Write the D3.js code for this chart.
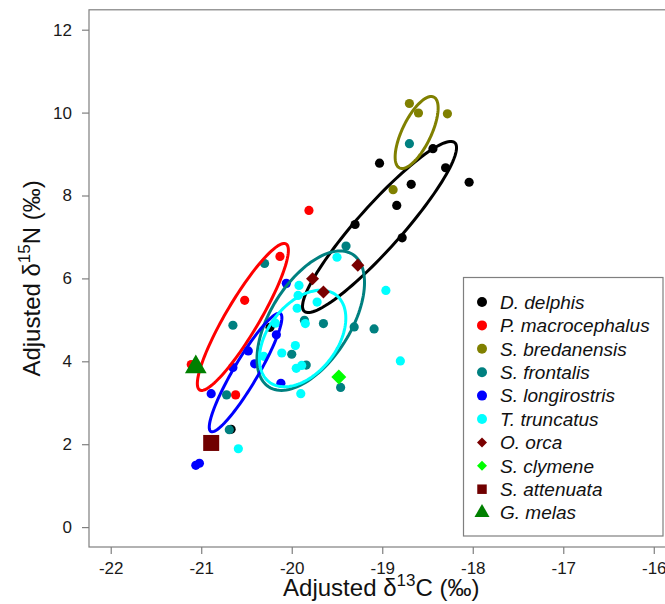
<!DOCTYPE html>
<html>
<head>
<meta charset="utf-8">
<title>Adjusted isotopes</title>
<style>
  html, body {margin: 0; padding: 0; background: #fff; overflow: hidden;}
  svg {display: block; font-family: "Liberation Sans", Arial, sans-serif;}
  .tick text {fill: #1a1a1a;}
</style>
</head>
<body>
<div id="chart"></div>
<script src="https://cdn.jsdelivr.net/npm/d3@7"></script>
<script>
// species names, in legend order
var species = ["D. delphis", "P. macrocephalus", "S. bredanensis", "S. frontalis",
               "S. longirostris", "T. truncatus", "O. orca", "S. clymene", "S. attenuata", "G. melas"];

// [d13C, d15N] per individual
var dDelphis = [[-18.04, 8.32], [-19.03, 8.78], [-18.68, 8.27], [-18.44, 9.13], [-18.30, 8.67],
                [-18.84, 7.76], [-19.30, 7.30], [-18.78, 6.98], [-20.67, 2.36], [-20.24, 4.82]];
var pMacro = [[-19.81, 7.64], [-20.13, 6.53], [-20.52, 5.47], [-20.62, 3.19], [-21.11, 3.92]];
var sBred = [[-18.70, 10.22], [-18.60, 9.99], [-18.28, 9.97], [-18.88, 8.14]];
var sFront = [[-18.70, 9.25], [-19.40, 6.78], [-20.30, 6.36], [-20.65, 4.87], [-19.86, 4.99],
              [-19.65, 4.91], [-19.31, 4.83], [-19.09, 4.78], [-20.00, 4.17], [-19.84, 3.91],
              [-19.46, 3.37], [-20.72, 3.19], [-20.69, 2.35]];
var sLongi = [[-20.06, 5.88], [-20.17, 4.64], [-20.48, 4.25], [-20.65, 3.85], [-20.41, 3.94],
              [-20.89, 3.22], [-21.06, 1.49], [-21.02, 1.54], [-20.12, 3.47]];
var tTrunc = [[-19.50, 6.51], [-19.92, 5.83], [-19.93, 5.59], [-19.72, 5.43], [-19.94, 5.28],
              [-19.85, 4.91], [-18.96, 5.71], [-20.18, 4.92], [-20.31, 4.12], [-20.11, 4.20],
              [-19.96, 4.38], [-19.95, 3.83], [-19.89, 3.90], [-18.80, 4.01], [-19.90, 3.22],
              [-20.59, 1.89]];
var oOrca = [[-19.77, 5.99], [-19.65, 5.67], [-19.27, 6.32]];
var sClym = [[-19.48, 3.62]];
var sAtten = [[-20.89, 2.03]];
var gMelas = [[-21.06, 3.86]];

// standard ellipse: centre and covariance (sxx, syy, sxy)
var seaSpecies = ["D. delphis", "P. macrocephalus", "S. bredanensis", "S. frontalis", "S. longirostris", "T. truncatus"];
var seaCx  = [-19.03, -20.54, -18.62, -19.79, -20.51, -19.88];
var seaCy  = [7.24, 5.07, 9.52, 4.98, 3.73, 4.55];
var seaSxx = [0.724, 0.253, 0.0564, 0.353, 0.161, 0.228];
var seaSyy = [4.261, 3.144, 0.754, 2.828, 2.047, 1.358];
var seaSxy = [1.627, 0.808, 0.140, 0.547, 0.529, 0.234];

var xTicks = [-22, -21, -20, -19, -18, -17, -16];
var yTicks = [0, 2, 4, 6, 8, 10, 12];

// styles
var colors = ["#000000", "#ff0000", "#808000", "#008080", "#0000ff", "#00ffff", "#7a0000", "#00ff00", "#700000", "#008000"];
var shapes = ["circle", "circle", "circle", "circle", "circle", "circle", "diamond", "diamond", "square", "triangle"];
var pointSets = [dDelphis, pMacro, sBred, sFront, sLongi, tTrunc, oOrca, sClym, sAtten, gMelas];
var bigSize = [0, 0, 0, 0, 0, 0, 85, 112, 256, 204];
var legSize = [0, 0, 0, 0, 0, 0, 50, 50, 90, 97];

var width = 665, height = 604;
var svg = d3.select("#chart").append("svg")
    .attr("width", width)
    .attr("height", height);

var x = d3.scaleLinear().domain([-22.24, -15.76]).range([89, 675.5]);
var y = d3.scaleLinear().domain([-0.48, 12.48]).range([547, 9.8]);

// frame
svg.append("rect")
    .attr("x", x.range()[0]).attr("y", y.range()[1])
    .attr("width", x.range()[1] - x.range()[0])
    .attr("height", y.range()[0] - y.range()[1])
    .attr("fill", "none").attr("stroke", "#7f7f7f").attr("stroke-width", 1.2);

var yAxis = svg.append("g")
    .attr("transform", "translate(" + x.range()[0] + ",0)")
    .call(d3.axisLeft(y).tickValues(yTicks).tickSize(7).tickPadding(10).tickFormat(d3.format("d")));
var xAxis = svg.append("g")
    .attr("transform", "translate(0," + y.range()[0] + ")")
    .call(d3.axisBottom(x).tickValues(xTicks).tickSize(7).tickPadding(8).tickFormat(d3.format("d")));

[xAxis, yAxis].forEach(function(g) {
    g.select(".domain").remove();
    g.selectAll("line").attr("stroke", "#7f7f7f").attr("stroke-width", 1.2);
    g.selectAll("text").attr("font-size", 17).attr("font-family", "Liberation Sans, Arial, sans-serif");
});
// d3 writes a minus sign; the figure uses a hyphen
xAxis.selectAll("text").text(function(d) { return String(d); });

// axis titles
var xt = svg.append("text")
    .attr("x", (x.range()[0] + x.range()[1]) / 2 - 1)
    .attr("y", 596)
    .attr("text-anchor", "middle")
    .attr("font-size", 24).attr("fill", "#111");
xt.append("tspan").text("Adjusted \u03b4");
xt.append("tspan").attr("font-size", 17).attr("dy", -10).text("13");
xt.append("tspan").attr("dy", 10).text("C (\u2030)");

var yt = svg.append("text")
    .attr("transform", "translate(40," + ((y.range()[0] + y.range()[1]) / 2) + ") rotate(-90)")
    .attr("text-anchor", "middle")
    .attr("font-size", 24).attr("fill", "#111");
yt.append("tspan").text("Adjusted \u03b4");
yt.append("tspan").attr("font-size", 17).attr("dy", -10).text("15");
yt.append("tspan").attr("dy", 10).text("N (\u2030)");

function symbolPath(shape, size) {
    if (shape === "diamond") return d3.symbol(d3.symbolSquare, size)();
    if (shape === "square") return d3.symbol(d3.symbolSquare, size)();
    return d3.symbol(d3.symbolTriangle, size)();
}

// circles first
pointSets.forEach(function(pts, i) {
    if (shapes[i] !== "circle") return;
    svg.append("g").selectAll("circle")
        .data(pts)
      .enter().append("circle")
        .attr("cx", function(d) { return x(d[0]); })
        .attr("cy", function(d) { return y(d[1]); })
        .attr("r", 4.6)
        .attr("fill", colors[i]);
});

// ellipses from covariance (cholesky)
var line = d3.line()
    .x(function(d) { return x(d[0]); })
    .y(function(d) { return y(d[1]); })
    .curve(d3.curveLinearClosed);

seaSpecies.forEach(function(sp, i) {
    var l11 = Math.sqrt(seaSxx[i]);
    var l21 = seaSxy[i] / l11;
    var l22 = Math.sqrt(seaSyy[i] - l21 * l21);
    var pts = d3.range(0, 120).map(function(k) {
        var t = k / 120 * 2 * Math.PI;
        return [seaCx[i] + l11 * Math.cos(t), seaCy[i] + l21 * Math.cos(t) + l22 * Math.sin(t)];
    });
    svg.append("path")
        .attr("d", line(pts))
        .attr("fill", "none")
        .attr("stroke", colors[species.indexOf(sp)])
        .attr("stroke-width", 3);
});

// other symbols on top
pointSets.forEach(function(pts, i) {
    if (shapes[i] === "circle") return;
    svg.append("g").selectAll("path")
        .data(pts)
      .enter().append("path")
        .attr("d", symbolPath(shapes[i], bigSize[i]))
        .attr("transform", function(d) {
            return "translate(" + x(d[0]) + "," + y(d[1]) + ")" + (shapes[i] === "diamond" ? " rotate(45)" : "");
        })
        .attr("fill", colors[i]);
});

// legend
var leg = svg.append("g");
leg.append("rect")
    .attr("x", 463.5).attr("y", 277.5)
    .attr("width", 199.5).attr("height", 258.5)
    .attr("fill", "#fff").attr("stroke", "#7f7f7f").attr("stroke-width", 1.2);

var items = leg.selectAll(".item")
    .data(species)
  .enter().append("g")
    .attr("class", "item")
    .attr("transform", function(d, i) { return "translate(482," + (302 + i * 23.4) + ")"; });

items.each(function(d, i) {
    var g = d3.select(this);
    if (shapes[i] === "circle") {
        g.append("circle").attr("r", 5).attr("fill", colors[i]);
    } else {
        g.append("path")
            .attr("d", symbolPath(shapes[i], legSize[i]))
            .attr("transform", shapes[i] === "diamond" ? "rotate(45)" : null)
            .attr("fill", colors[i]);
    }
    g.append("text")
        .attr("x", 18).attr("dy", "0.36em")
        .attr("font-size", 19).attr("font-style", "italic")
        .attr("fill", "#111")
        .text(d);
});
</script>
</body>
</html>
